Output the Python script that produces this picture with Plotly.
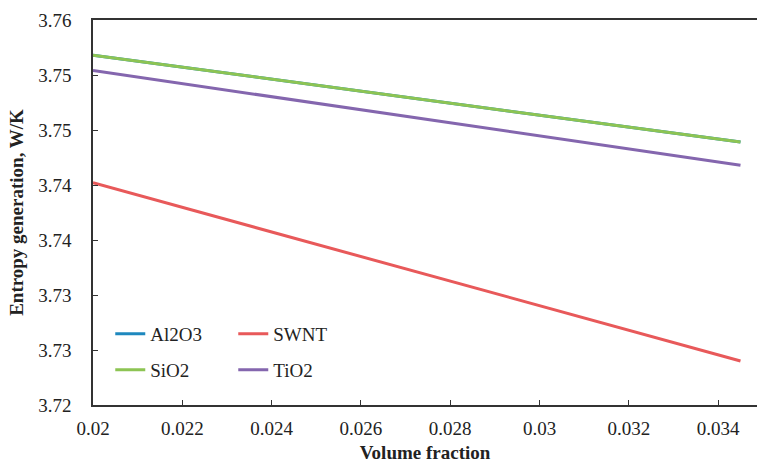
import plotly.graph_objects as go

# Data
volume_fraction = [0.02, 0.0345]
al2o3 = [3.7518, 3.7439]
swnt = [3.7402, 3.7240]
sio2 = [3.7518, 3.7439]
tio2 = [3.7504, 3.7418]

x_tickvals = [0.02, 0.022, 0.024, 0.026, 0.028, 0.03, 0.032, 0.034]
x_ticktext = ["0.02", "0.022", "0.024", "0.026", "0.028", "0.03", "0.032", "0.034"]
y_tickvals = [3.72, 3.725, 3.73, 3.735, 3.74, 3.745, 3.75, 3.755]
y_ticktext = ["3.72", "3.73", "3.73", "3.74", "3.74", "3.75", "3.75", "3.76"]

series = [
    ("Al2O3", al2o3, "#1E88BE", "legend"),
    ("SWNT", swnt, "#E8595A", "legend"),
    ("SiO2", sio2, "#8DC453", "legend2"),
    ("TiO2", tio2, "#8466AE", "legend2"),
]

FONT = "Liberation Serif, Times New Roman, serif"

fig = go.Figure()
for name, vals, color, leg in series:
    fig.add_trace(go.Scatter(
        x=volume_fraction, y=vals, mode="lines", name=name,
        line=dict(color=color, width=3), legend=leg,
    ))

legend_common = dict(
    orientation="h", xanchor="left", yanchor="middle",
    font=dict(family=FONT, size=19, color="#222"),
    bgcolor="rgba(0,0,0,0)", entrywidth=78, entrywidthmode="pixels",
    itemwidth=30, traceorder="normal",
)

fig.update_layout(
    width=757, height=465,
    margin=dict(l=93, r=0, t=20, b=60),
    paper_bgcolor="white", plot_bgcolor="white",
    font=dict(family=FONT, size=19, color="#222"),
    showlegend=True,
    legend=dict(x=0.026, y=(405 - 334) / 385, **legend_common),
    legend2=dict(x=0.026, y=(405 - 370) / 385, **legend_common),
    xaxis=dict(
        range=[0.02, 0.03487], tickvals=x_tickvals, ticktext=x_ticktext,
        showgrid=False, zeroline=False, showline=True, linecolor="#333",
        linewidth=1.5, mirror=True, ticks="inside", ticklen=5,
        tickcolor="#333", ticklabelstandoff=5,
        tickfont=dict(family=FONT, size=19, color="#222"),
        title=dict(text="<b>Volume fraction</b>", standoff=8,
                   font=dict(family=FONT, size=19, color="#222")),
    ),
    yaxis=dict(
        range=[3.72, 3.755], tickvals=y_tickvals, ticktext=y_ticktext,
        showgrid=False, zeroline=False, showline=True, linecolor="#333",
        linewidth=1.5, mirror=False, ticks="inside", ticklen=5,
        tickcolor="#333", ticklabelstandoff=16,
        tickfont=dict(family=FONT, size=19, color="#222"),
        title=dict(text="<b>Entropy generation, W/K</b>", standoff=10,
                   font=dict(family=FONT, size=19, color="#222")),
    ),
)

fig.write_html("out.html")
